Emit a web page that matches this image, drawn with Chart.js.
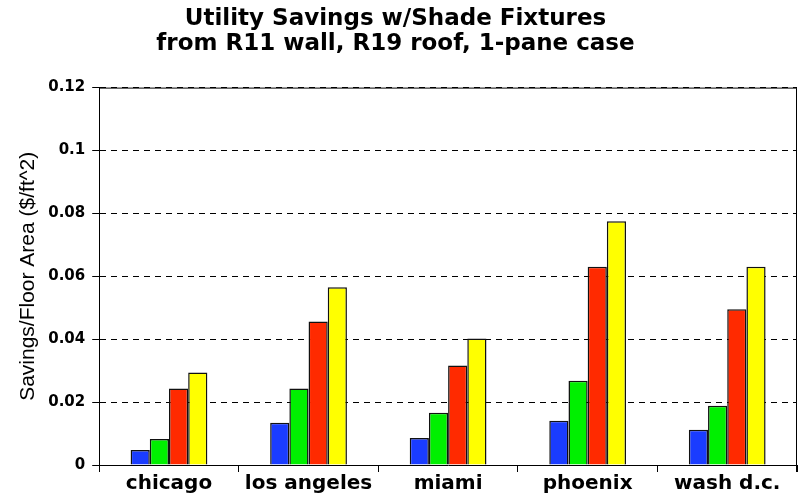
<!DOCTYPE html>
<html>
<head>
<meta charset="utf-8">
<script src="https://cdn.jsdelivr.net/npm/chart.js@4"></script>
<style>
  html, body { margin: 0; padding: 0; background: #fff; }
  #wrap { width: 800px; height: 496px; }
</style>
</head>
<body>
<div id="wrap"><canvas id="savingsChart"></canvas></div>
<script>
var cities = ["chicago", "los angeles", "miami", "phoenix", "wash d.c."];
var blueSeries = [0.0048, 0.0134, 0.0086, 0.0141, 0.0112];
var greenSeries = [0.0083, 0.0243, 0.0166, 0.0268, 0.0188];
var redSeries = [0.0243, 0.0456, 0.0316, 0.0630, 0.0495];
var yellowSeries = [0.0294, 0.0565, 0.0402, 0.0775, 0.0630];
var yTickLabels = ["0", "0.02", "0.04", "0.06", "0.08", "0.1", "0.12"];

// solid box on top and right of the plot
var frame = {
    id: 'frame',
    afterDraw: function (chart) {
        var a = chart.chartArea;
        var ctx = chart.ctx;
        ctx.save();
        ctx.strokeStyle = '#000';
        ctx.lineWidth = 1;
        ctx.beginPath();
        ctx.moveTo(a.left, a.top + 0.5);
        ctx.lineTo(a.right - 0.5, a.top + 0.5);
        ctx.lineTo(a.right - 0.5, a.bottom + 7);
        ctx.stroke();
        ctx.restore();
    }
};

function makeSet(name, values, color) {
    return {
        label: name,
        data: values,
        backgroundColor: color,
        borderColor: '#111',
        borderWidth: 1.5,
        categoryPercentage: 0.55,
        barPercentage: 1
    };
}

var ctx = document.getElementById('savingsChart');
var savingsChart = new Chart(ctx, {
    type: 'bar',
    data: {
        labels: cities,
        datasets: [
            makeSet('s1', blueSeries, '#1a3cff'),
            makeSet('s2', greenSeries, '#00f000'),
            makeSet('s3', redSeries, '#ff2a00'),
            makeSet('s4', yellowSeries, '#ffff00')
        ]
    },
    options: {
        responsive: true,
        maintainAspectRatio: false,
        animation: false,
        layout: { padding: { left: 10, right: 3, top: 0, bottom: 0 } },
        plugins: {
            legend: { display: false },
            tooltip: { enabled: false },
            title: {
                display: true,
                // trailing spaces nudge the centred title a little left, as in the original
                text: ['Utility Savings w/Shade Fixtures\u00a0\u00a0', 'from R11 wall, R19 roof, 1-pane case\u00a0\u00a0'],
                color: '#000',
                font: { family: 'DejaVu Sans', size: 23, weight: 'bold', lineHeight: 1.1 },
                padding: { top: 6, bottom: 31 }
            }
        },
        scales: {
            x: {
                grid: {
                    display: true,
                    drawOnChartArea: false,
                    drawTicks: true,
                    tickLength: 7,
                    tickColor: '#000',
                    offset: true
                },
                border: { color: '#000', width: 1 },
                ticks: {
                    color: '#000',
                    padding: 0,
                    font: { family: 'DejaVu Sans', size: 20, weight: 'bold' }
                }
            },
            y: {
                min: 0,
                max: 0.12,
                grid: {
                    color: '#000',
                    lineWidth: 1,
                    tickLength: 7,
                    tickColor: '#000'
                },
                border: { color: '#000', width: 1, dash: [6, 5] },
                ticks: {
                    stepSize: 0.02,
                    color: '#000',
                    padding: 7,
                    font: { family: 'DejaVu Sans', size: 15, weight: 'bold' },
                    callback: function (value, index) {
                        return yTickLabels[index];
                    }
                },
                title: {
                    display: true,
                    text: 'Savings/Floor Area ($/ft^2)',
                    color: '#000',
                    font: { family: 'Liberation Sans', size: 21 },
                    padding: { top: 6, bottom: 0 }
                }
            }
        }
    },
    plugins: [frame]
});
</script>
</body>
</html>
